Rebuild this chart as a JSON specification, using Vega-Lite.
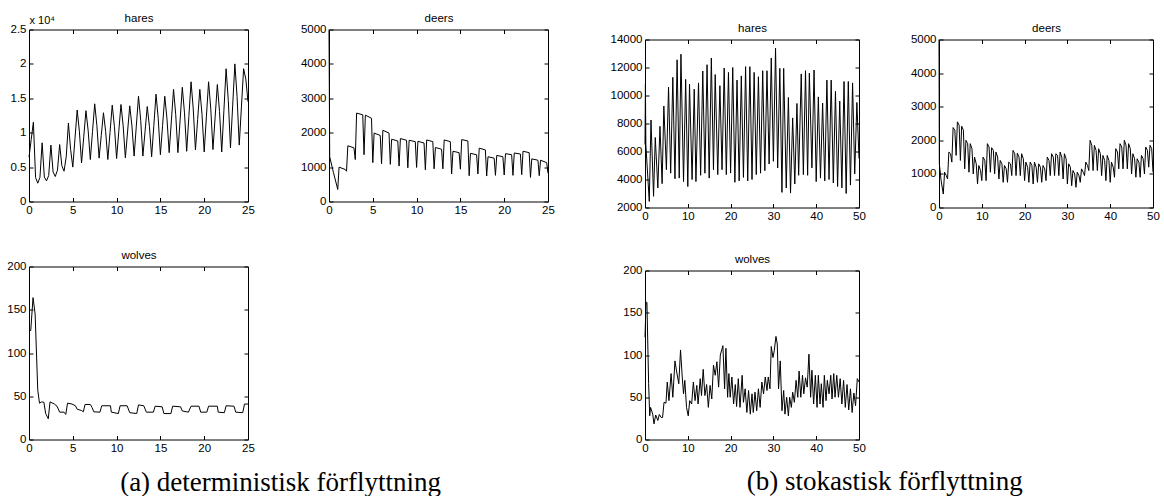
{
"$schema":"https://vega.github.io/schema/vega-lite/v6.json",
"padding":{"left":6,"top":11.5,"right":0,"bottom":0},
"datasets":{
"ha":[{"t":0,"v":6440},{"t":0.25,"v":9000},{"t":0.5,"v":11530},{"t":0.75,"v":3500},{"t":1,"v":2660},{"t":1.25,"v":3500},{"t":1.5,"v":8530},{"t":1.75,"v":3550},{"t":2,"v":3000},{"t":2.25,"v":3780},{"t":2.5,"v":8200},{"t":2.75,"v":4300},{"t":3,"v":3630},{"t":3.25,"v":4560},{"t":3.5,"v":8280},{"t":3.75,"v":5200},{"t":4,"v":4400},{"t":4.25,"v":6500},{"t":4.5,"v":11400},{"t":4.75,"v":7560},{"t":5,"v":5000},{"t":5.25,"v":9150},{"t":5.5,"v":13300},{"t":5.75,"v":10220},{"t":6,"v":5600},{"t":6.25,"v":9400},{"t":6.5,"v":13200},{"t":6.75,"v":10360},{"t":7,"v":6100},{"t":7.25,"v":10150},{"t":7.5,"v":14200},{"t":7.75,"v":11040},{"t":8,"v":6300},{"t":8.25,"v":9600},{"t":8.5,"v":12900},{"t":8.75,"v":10180},{"t":9,"v":6100},{"t":9.25,"v":10050},{"t":9.5,"v":14000},{"t":9.75,"v":10900},{"t":10,"v":6250},{"t":10.25,"v":10200},{"t":10.5,"v":14100},{"t":10.75,"v":11000},{"t":11,"v":6350},{"t":11.25,"v":10100},{"t":11.5,"v":13900},{"t":11.75,"v":10980},{"t":12,"v":6600},{"t":12.25,"v":10950},{"t":12.5,"v":15300},{"t":12.75,"v":11820},{"t":13,"v":6600},{"t":13.25,"v":10200},{"t":13.5,"v":13800},{"t":13.75,"v":10880},{"t":14,"v":6500},{"t":14.25,"v":11050},{"t":14.5,"v":15600},{"t":14.75,"v":12080},{"t":15,"v":6800},{"t":15.25,"v":11050},{"t":15.5,"v":15300},{"t":15.75,"v":12020},{"t":16,"v":7100},{"t":16.25,"v":11700},{"t":16.5,"v":16300},{"t":16.75,"v":12620},{"t":17,"v":7100},{"t":17.25,"v":11850},{"t":17.5,"v":16600},{"t":17.75,"v":12880},{"t":18,"v":7300},{"t":18.25,"v":12350},{"t":18.5,"v":17400},{"t":18.75,"v":13440},{"t":19,"v":7500},{"t":19.25,"v":11900},{"t":19.5,"v":16300},{"t":19.75,"v":12660},{"t":20,"v":7200},{"t":20.25,"v":12300},{"t":20.5,"v":17400},{"t":20.75,"v":13460},{"t":21,"v":7550},{"t":21.25,"v":12300},{"t":21.5,"v":17000},{"t":21.75,"v":13080},{"t":22,"v":7200},{"t":22.25,"v":13250},{"t":22.5,"v":19300},{"t":22.75,"v":14700},{"t":23,"v":7800},{"t":23.25,"v":13900},{"t":23.5,"v":20000},{"t":23.75,"v":15280},{"t":24,"v":8200},{"t":24.25,"v":13750},{"t":24.5,"v":19300},{"t":24.75,"v":17800},{"t":25,"v":14500}],
"da":[{"t":0,"v":5000},{"t":0.08,"v":1300},{"t":0.5,"v":850},{"t":1,"v":350},{"t":1.15,"v":1000},{"t":1.85,"v":930},{"t":2,"v":880},{"t":2.15,"v":1620},{"t":2.85,"v":1560},{"t":3,"v":1220},{"t":3.15,"v":2570},{"t":3.85,"v":2520},{"t":4,"v":1360},{"t":4.15,"v":2510},{"t":4.85,"v":2420},{"t":5,"v":1130},{"t":5.15,"v":1990},{"t":5.85,"v":1920},{"t":6,"v":1100},{"t":6.15,"v":2070},{"t":6.85,"v":1990},{"t":7,"v":1080},{"t":7.15,"v":1810},{"t":7.85,"v":1760},{"t":8,"v":1030},{"t":8.15,"v":1830},{"t":8.85,"v":1780},{"t":9,"v":980},{"t":9.15,"v":1780},{"t":9.85,"v":1740},{"t":10,"v":990},{"t":10.15,"v":1750},{"t":10.85,"v":1700},{"t":11,"v":920},{"t":11.15,"v":1790},{"t":11.85,"v":1740},{"t":12,"v":950},{"t":12.15,"v":1570},{"t":12.85,"v":1520},{"t":13,"v":950},{"t":13.15,"v":1790},{"t":13.85,"v":1740},{"t":14,"v":800},{"t":14.15,"v":1460},{"t":14.85,"v":1420},{"t":15,"v":940},{"t":15.15,"v":1800},{"t":15.85,"v":1760},{"t":16,"v":750},{"t":16.15,"v":1400},{"t":16.85,"v":1360},{"t":17,"v":800},{"t":17.15,"v":1550},{"t":17.85,"v":1500},{"t":18,"v":740},{"t":18.15,"v":1300},{"t":18.85,"v":1260},{"t":19,"v":760},{"t":19.15,"v":1340},{"t":19.85,"v":1300},{"t":20,"v":770},{"t":20.15,"v":1390},{"t":20.85,"v":1360},{"t":21,"v":760},{"t":21.15,"v":1410},{"t":21.85,"v":1380},{"t":22,"v":780},{"t":22.15,"v":1460},{"t":22.85,"v":1420},{"t":23,"v":700},{"t":23.15,"v":1240},{"t":23.85,"v":1200},{"t":24,"v":750},{"t":24.15,"v":1200},{"t":24.85,"v":1130},{"t":25,"v":820}],
"wa":[{"t":0,"v":126},{"t":0.2,"v":126},{"t":0.46,"v":164},{"t":0.7,"v":145},{"t":1,"v":57},{"t":1.2,"v":42},{"t":1.45,"v":43.5},{"t":1.7,"v":43},{"t":1.9,"v":30},{"t":2.2,"v":24},{"t":2.4,"v":43.5},{"t":2.9,"v":41},{"t":3.2,"v":38.5},{"t":3.5,"v":31.6},{"t":4,"v":31.6},{"t":4.2,"v":29},{"t":4.4,"v":42},{"t":4.9,"v":41},{"t":5.3,"v":39},{"t":5.5,"v":35},{"t":6,"v":33.5},{"t":6.2,"v":32},{"t":6.4,"v":40.5},{"t":7,"v":40.5},{"t":7.2,"v":37},{"t":7.4,"v":32},{"t":8.1,"v":31.6},{"t":8.3,"v":39},{"t":9.3,"v":39},{"t":9.4,"v":31.6},{"t":10.2,"v":30},{"t":10.4,"v":39},{"t":11.2,"v":39},{"t":11.5,"v":31},{"t":12.3,"v":30},{"t":12.5,"v":40},{"t":13.1,"v":39},{"t":13.4,"v":31.6},{"t":14.2,"v":31.6},{"t":14.4,"v":38.5},{"t":15.2,"v":37.8},{"t":15.4,"v":30},{"t":16.2,"v":30},{"t":16.4,"v":38.5},{"t":17.3,"v":37.8},{"t":17.5,"v":33},{"t":18.2,"v":31.6},{"t":18.5,"v":38.5},{"t":19.4,"v":38.5},{"t":19.6,"v":31.6},{"t":20.3,"v":31.6},{"t":20.5,"v":38.5},{"t":21.5,"v":38.5},{"t":21.6,"v":31.6},{"t":22.3,"v":31},{"t":22.5,"v":39},{"t":23.4,"v":38.5},{"t":23.6,"v":31.6},{"t":24.4,"v":31},{"t":24.6,"v":41},{"t":25,"v":41}],
"hb":[{"t":0,"v":6500},{"t":0.1,"v":10800},{"t":0.2,"v":6500},{"t":1,"v":2430},{"t":1.4,"v":8250},{"t":2,"v":2800},{"t":2.4,"v":7000},{"t":3,"v":3400},{"t":3.5,"v":7800},{"t":4,"v":3700},{"t":4.4,"v":9250},{"t":5,"v":4700},{"t":5.5,"v":10600},{"t":6,"v":4450},{"t":6.5,"v":11300},{"t":7,"v":4050},{"t":7.5,"v":12550},{"t":8,"v":4100},{"t":8.4,"v":12950},{"t":9,"v":3850},{"t":9.5,"v":11150},{"t":10,"v":3500},{"t":10.4,"v":10800},{"t":11,"v":4000},{"t":11.5,"v":10450},{"t":11.9,"v":3850},{"t":12.5,"v":10900},{"t":13,"v":4300},{"t":13.5,"v":11750},{"t":14,"v":4450},{"t":14.5,"v":12200},{"t":15,"v":4100},{"t":15.5,"v":12680},{"t":16,"v":4700},{"t":16.4,"v":11500},{"t":17,"v":4350},{"t":17.5,"v":10700},{"t":18,"v":4700},{"t":18.5,"v":11960},{"t":19,"v":4350},{"t":19.5,"v":11650},{"t":20,"v":4460},{"t":20.5,"v":12000},{"t":21,"v":3800},{"t":21.5,"v":11100},{"t":22,"v":3900},{"t":22.5,"v":11400},{"t":23,"v":4150},{"t":23.5,"v":12060},{"t":24,"v":3900},{"t":24.5,"v":12060},{"t":25,"v":4000},{"t":25.5,"v":11650},{"t":26,"v":4350},{"t":26.5,"v":11340},{"t":27,"v":4450},{"t":27.5,"v":11770},{"t":28,"v":4630},{"t":28.5,"v":11770},{"t":29,"v":5110},{"t":29.5,"v":12680},{"t":30,"v":5300},{"t":30.5,"v":13380},{"t":31,"v":4820},{"t":31.5,"v":11940},{"t":32,"v":3080},{"t":32.4,"v":11940},{"t":33,"v":3390},{"t":33.5,"v":9860},{"t":34,"v":3030},{"t":34.5,"v":8400},{"t":35,"v":3680},{"t":35.5,"v":9430},{"t":35.9,"v":4300},{"t":36.5,"v":11540},{"t":37,"v":4350},{"t":37.5,"v":11770},{"t":38,"v":4300},{"t":38.4,"v":11600},{"t":39,"v":4830},{"t":39.5,"v":11820},{"t":40,"v":3850},{"t":40.5,"v":9900},{"t":41,"v":4100},{"t":41.5,"v":9460},{"t":42,"v":3900},{"t":42.5,"v":11100},{"t":43,"v":4000},{"t":43.5,"v":11100},{"t":44,"v":3750},{"t":44.5,"v":10300},{"t":45,"v":3500},{"t":45.5,"v":9600},{"t":46,"v":3400},{"t":46.5,"v":11000},{"t":47,"v":3000},{"t":47.5,"v":11000},{"t":48,"v":3600},{"t":48.5,"v":10900},{"t":49,"v":4400},{"t":49.5,"v":9500},{"t":50,"v":5500}],
"db":[{"t":0,"v":5000},{"t":0.08,"v":1300},{"t":0.5,"v":800},{"t":1,"v":400},{"t":1.3,"v":1050},{"t":1.7,"v":950},{"t":2,"v":850},{"t":2.3,"v":1650},{"t":2.7,"v":1600},{"t":3,"v":1350},{"t":3.3,"v":2380},{"t":3.7,"v":2300},{"t":4,"v":1550},{"t":4.3,"v":2550},{"t":4.7,"v":2450},{"t":5,"v":1400},{"t":5.3,"v":2420},{"t":5.7,"v":2300},{"t":6,"v":1150},{"t":6.3,"v":2000},{"t":6.7,"v":1900},{"t":7,"v":1050},{"t":7.3,"v":1900},{"t":7.7,"v":1750},{"t":8,"v":1000},{"t":8.3,"v":1500},{"t":8.7,"v":1300},{"t":9,"v":700},{"t":9.3,"v":1250},{"t":9.7,"v":1100},{"t":10,"v":800},{"t":10.3,"v":1500},{"t":10.7,"v":1400},{"t":11,"v":800},{"t":11.3,"v":1900},{"t":11.7,"v":1800},{"t":12,"v":1050},{"t":12.3,"v":1780},{"t":12.7,"v":1700},{"t":13,"v":1000},{"t":13.3,"v":1650},{"t":13.7,"v":1500},{"t":14,"v":850},{"t":14.3,"v":1400},{"t":14.7,"v":1300},{"t":15,"v":750},{"t":15.3,"v":1250},{"t":15.7,"v":1150},{"t":16,"v":750},{"t":16.3,"v":1350},{"t":16.7,"v":1300},{"t":17,"v":950},{"t":17.3,"v":1700},{"t":17.7,"v":1600},{"t":18,"v":950},{"t":18.3,"v":1620},{"t":18.7,"v":1500},{"t":19,"v":950},{"t":19.3,"v":1600},{"t":19.7,"v":1450},{"t":20,"v":800},{"t":20.3,"v":1350},{"t":20.7,"v":1200},{"t":21,"v":750},{"t":21.3,"v":1350},{"t":21.7,"v":1250},{"t":22,"v":700},{"t":22.3,"v":1350},{"t":22.7,"v":1200},{"t":23,"v":750},{"t":23.3,"v":1300},{"t":23.7,"v":1200},{"t":24,"v":750},{"t":24.3,"v":1250},{"t":24.7,"v":1150},{"t":25,"v":800},{"t":25.3,"v":1500},{"t":25.7,"v":1400},{"t":26,"v":950},{"t":26.3,"v":1600},{"t":26.7,"v":1500},{"t":27,"v":950},{"t":27.3,"v":1600},{"t":27.7,"v":1550},{"t":28,"v":950},{"t":28.3,"v":1650},{"t":28.7,"v":1500},{"t":29,"v":850},{"t":29.3,"v":1600},{"t":29.7,"v":1450},{"t":30,"v":700},{"t":30.3,"v":1300},{"t":30.7,"v":1200},{"t":31,"v":650},{"t":31.3,"v":1100},{"t":31.7,"v":1000},{"t":32,"v":600},{"t":32.3,"v":1050},{"t":32.7,"v":950},{"t":33,"v":750},{"t":33.3,"v":1150},{"t":33.7,"v":1050},{"t":34,"v":950},{"t":34.3,"v":1350},{"t":34.7,"v":1250},{"t":35,"v":1100},{"t":35.3,"v":2000},{"t":35.7,"v":1850},{"t":36,"v":1100},{"t":36.3,"v":1850},{"t":36.7,"v":1700},{"t":37,"v":1100},{"t":37.3,"v":1750},{"t":37.7,"v":1600},{"t":38,"v":950},{"t":38.3,"v":1550},{"t":38.7,"v":1400},{"t":39,"v":800},{"t":39.3,"v":1550},{"t":39.7,"v":1400},{"t":40,"v":750},{"t":40.3,"v":1350},{"t":40.7,"v":1200},{"t":41,"v":900},{"t":41.3,"v":1750},{"t":41.7,"v":1650},{"t":42,"v":1150},{"t":42.3,"v":1900},{"t":42.7,"v":1800},{"t":43,"v":1150},{"t":43.3,"v":2000},{"t":43.7,"v":1850},{"t":44,"v":1150},{"t":44.3,"v":1900},{"t":44.7,"v":1750},{"t":45,"v":1000},{"t":45.3,"v":1600},{"t":45.7,"v":1450},{"t":46,"v":900},{"t":46.3,"v":1450},{"t":46.7,"v":1350},{"t":47,"v":900},{"t":47.3,"v":1550},{"t":47.7,"v":1450},{"t":48,"v":1000},{"t":48.3,"v":1800},{"t":48.7,"v":1700},{"t":49,"v":1200},{"t":49.3,"v":1850},{"t":49.7,"v":1750},{"t":50,"v":1050}],
"wb":[{"t":0,"v":121},{"t":0.25,"v":163},{"t":0.45,"v":162},{"t":0.85,"v":66},{"t":1.1,"v":28},{"t":1.3,"v":38},{"t":1.8,"v":30},{"t":2.1,"v":18.5},{"t":2.5,"v":29},{"t":3,"v":22.5},{"t":3.35,"v":29.6},{"t":3.8,"v":26},{"t":4.1,"v":26},{"t":4.45,"v":44},{"t":4.9,"v":43},{"t":5.2,"v":68},{"t":5.6,"v":46},{"t":6.1,"v":78},{"t":6.5,"v":50},{"t":7,"v":93},{"t":7.4,"v":80},{"t":7.9,"v":66},{"t":8.3,"v":106},{"t":8.7,"v":74},{"t":9,"v":54},{"t":9.3,"v":70},{"t":9.7,"v":38},{"t":10.1,"v":28},{"t":10.45,"v":46},{"t":10.9,"v":42},{"t":11.3,"v":68},{"t":11.7,"v":46},{"t":12.1,"v":64},{"t":12.4,"v":42},{"t":12.9,"v":72},{"t":13.2,"v":52},{"t":13.6,"v":83},{"t":14,"v":52},{"t":14.4,"v":65},{"t":14.8,"v":38},{"t":15.2,"v":64},{"t":15.6,"v":48},{"t":16,"v":88},{"t":16.4,"v":76},{"t":16.8,"v":92},{"t":17.2,"v":62},{"t":17.6,"v":100},{"t":18.2,"v":111},{"t":18.6,"v":60},{"t":18.9,"v":108},{"t":19.3,"v":50},{"t":19.6,"v":78},{"t":19.9,"v":50},{"t":20.3,"v":74},{"t":20.7,"v":42},{"t":21.1,"v":65},{"t":21.4,"v":39},{"t":21.8,"v":72},{"t":22.2,"v":38},{"t":22.7,"v":76},{"t":23,"v":44},{"t":23.4,"v":60},{"t":23.8,"v":32},{"t":24.2,"v":58},{"t":24.6,"v":30},{"t":25,"v":54},{"t":25.3,"v":32},{"t":25.7,"v":56},{"t":26.1,"v":34},{"t":26.5,"v":60},{"t":26.9,"v":38},{"t":27.3,"v":68},{"t":27.7,"v":54},{"t":28.1,"v":74},{"t":28.5,"v":58},{"t":28.8,"v":74},{"t":29.2,"v":60},{"t":29.5,"v":110},{"t":29.9,"v":97},{"t":30.2,"v":105},{"t":30.6,"v":122},{"t":30.9,"v":113},{"t":31.2,"v":60},{"t":31.6,"v":93},{"t":32,"v":34},{"t":32.4,"v":58},{"t":32.7,"v":30},{"t":33.1,"v":50},{"t":33.5,"v":28},{"t":33.8,"v":50},{"t":34.2,"v":38},{"t":34.5,"v":56},{"t":34.9,"v":44},{"t":35.3,"v":70},{"t":35.7,"v":50},{"t":36,"v":81},{"t":36.4,"v":50},{"t":36.8,"v":76},{"t":37.1,"v":54},{"t":37.5,"v":73},{"t":37.9,"v":62},{"t":38.3,"v":101},{"t":38.7,"v":50},{"t":39,"v":82},{"t":39.4,"v":42},{"t":39.8,"v":76},{"t":40.2,"v":38},{"t":40.5,"v":76},{"t":40.9,"v":42},{"t":41.2,"v":66},{"t":41.6,"v":38},{"t":41.9,"v":76},{"t":42.3,"v":46},{"t":42.6,"v":70},{"t":43,"v":54},{"t":43.4,"v":76},{"t":43.7,"v":48},{"t":44.1,"v":78},{"t":44.4,"v":50},{"t":44.8,"v":76},{"t":45.2,"v":50},{"t":45.6,"v":72},{"t":46,"v":42},{"t":46.4,"v":70},{"t":46.8,"v":38},{"t":47.2,"v":65},{"t":47.6,"v":35},{"t":48,"v":60},{"t":48.4,"v":32},{"t":48.8,"v":55},{"t":49.2,"v":40},{"t":49.6,"v":72},{"t":50,"v":68}]
},
"bounds":"flush",
"spacing":616,
"hconcat":[
{"bounds":"flush","columns":2,"spacing":{"row":65,"column":81},
 "title":{"text":"(a) deterministisk förflyttning","orient":"bottom","font":"Liberation Serif","fontSize":27,"fontWeight":"normal","offset":15,"baseline":"top","anchor":"middle"},
 "concat":[
   {"width":219,"height":172,"data":{"name":"ha"},
    "layer":[
     {"mark":{"type":"line","color":"black","strokeWidth":1},
      "encoding":{"x":{"field":"t","type":"quantitative","scale":{"domain":[0,25],"nice":false},"axis":{"values":[0,5,10,15,20,25],"title":null}},
       "y":{"field":"v","type":"quantitative","scale":{"domain":[0,25000],"nice":false},"axis":{"values":[0,5000,10000,15000,20000,25000],"labelExpr":"datum.value/10000","title":"x 10⁴","titleAngle":0,"titleX":0,"titleY":-6,"titleAlign":"left","titleBaseline":"alphabetic","titleFontSize":11}}}},
     {"mark":{"type":"line","strokeOpacity":0},
      "encoding":{"x":{"field":"t","type":"quantitative","scale":{"domain":[0,25],"nice":false},"axis":{"orient":"top","values":[0,5,10,15,20,25],"title":"hares"}},
       "y":{"field":"v","type":"quantitative","scale":{"domain":[0,25000],"nice":false},"axis":{"orient":"right","values":[0,5000,10000,15000,20000,25000],"title":null}}}}
    ],
    "resolve":{"axis":{"x":"independent","y":"independent"}}},
   {"width":219,"height":172,"data":{"name":"da"},
    "layer":[
     {"mark":{"type":"line","color":"black","strokeWidth":1},
      "encoding":{"x":{"field":"t","type":"quantitative","scale":{"domain":[0,25],"nice":false},"axis":{"values":[0,5,10,15,20,25],"title":null}},
       "y":{"field":"v","type":"quantitative","scale":{"domain":[0,5000],"nice":false},"axis":{"values":[0,1000,2000,3000,4000,5000],"format":"d","title":null}}}},
     {"mark":{"type":"line","strokeOpacity":0},
      "encoding":{"x":{"field":"t","type":"quantitative","scale":{"domain":[0,25],"nice":false},"axis":{"orient":"top","values":[0,5,10,15,20,25],"title":"deers"}},
       "y":{"field":"v","type":"quantitative","scale":{"domain":[0,5000],"nice":false},"axis":{"orient":"right","values":[0,1000,2000,3000,4000,5000],"title":null}}}}
    ],
    "resolve":{"axis":{"x":"independent","y":"independent"}}},
  {"width":219,"height":173,"data":{"name":"wa"},
   "layer":[
    {"mark":{"type":"line","color":"black","strokeWidth":1},
     "encoding":{"x":{"field":"t","type":"quantitative","scale":{"domain":[0,25],"nice":false},"axis":{"values":[0,5,10,15,20,25],"title":null}},
      "y":{"field":"v","type":"quantitative","scale":{"domain":[0,200],"nice":false},"axis":{"values":[0,50,100,150,200],"title":null}}}},
    {"mark":{"type":"line","strokeOpacity":0},
     "encoding":{"x":{"field":"t","type":"quantitative","scale":{"domain":[0,25],"nice":false},"axis":{"orient":"top","values":[0,5,10,15,20,25],"title":"wolves"}},
      "y":{"field":"v","type":"quantitative","scale":{"domain":[0,200],"nice":false},"axis":{"orient":"right","values":[0,50,100,150,200],"title":null}}}}
   ],
   "resolve":{"axis":{"x":"independent","y":"independent"}}}
 ]},
{"bounds":"flush","spacing":9,
 "title":{"text":"(b) stokastisk förflyttning","orient":"bottom","font":"Liberation Serif","fontSize":27,"fontWeight":"normal","offset":14,"baseline":"top","anchor":"middle"},
 "vconcat":[
  {"width":1,"height":1,"data":{"values":[{"a":1}]},"mark":{"type":"point","opacity":0},"encoding":{},"view":{"stroke":null}},
  {"bounds":"flush","columns":2,"spacing":{"row":63,"column":80},
   "concat":[
    {"width":214,"height":168,"data":{"name":"hb"},
     "layer":[
      {"mark":{"type":"line","color":"black","strokeWidth":1},
       "encoding":{"x":{"field":"t","type":"quantitative","scale":{"domain":[0,50],"nice":false},"axis":{"values":[0,10,20,30,40,50],"title":null}},
        "y":{"field":"v","type":"quantitative","scale":{"domain":[2000,14000],"nice":false,"zero":false},"axis":{"values":[2000,4000,6000,8000,10000,12000,14000],"format":"d","title":null}}}},
      {"mark":{"type":"line","strokeOpacity":0},
       "encoding":{"x":{"field":"t","type":"quantitative","scale":{"domain":[0,50],"nice":false},"axis":{"orient":"top","values":[0,10,20,30,40,50],"title":"hares"}},
        "y":{"field":"v","type":"quantitative","scale":{"domain":[2000,14000],"nice":false,"zero":false},"axis":{"orient":"right","values":[2000,4000,6000,8000,10000,12000,14000],"title":null}}}}
     ],
     "resolve":{"axis":{"x":"independent","y":"independent"}}},
    {"width":214,"height":168,"data":{"name":"db"},
     "layer":[
      {"mark":{"type":"line","color":"black","strokeWidth":1},
       "encoding":{"x":{"field":"t","type":"quantitative","scale":{"domain":[0,50],"nice":false},"axis":{"values":[0,10,20,30,40,50],"title":null}},
        "y":{"field":"v","type":"quantitative","scale":{"domain":[0,5000],"nice":false},"axis":{"values":[0,1000,2000,3000,4000,5000],"format":"d","title":null}}}},
      {"mark":{"type":"line","strokeOpacity":0},
       "encoding":{"x":{"field":"t","type":"quantitative","scale":{"domain":[0,50],"nice":false},"axis":{"orient":"top","values":[0,10,20,30,40,50],"title":"deers"}},
        "y":{"field":"v","type":"quantitative","scale":{"domain":[0,5000],"nice":false},"axis":{"orient":"right","values":[0,1000,2000,3000,4000,5000],"title":null}}}}
     ],
     "resolve":{"axis":{"x":"independent","y":"independent"}}},
    {"width":214,"height":169,"data":{"name":"wb"},
     "layer":[
      {"mark":{"type":"line","color":"black","strokeWidth":1},
       "encoding":{"x":{"field":"t","type":"quantitative","scale":{"domain":[0,50],"nice":false},"axis":{"values":[0,10,20,30,40,50],"title":null}},
        "y":{"field":"v","type":"quantitative","scale":{"domain":[0,200],"nice":false},"axis":{"values":[0,50,100,150,200],"title":null}}}},
      {"mark":{"type":"line","strokeOpacity":0},
       "encoding":{"x":{"field":"t","type":"quantitative","scale":{"domain":[0,50],"nice":false},"axis":{"orient":"top","values":[0,10,20,30,40,50],"title":"wolves"}},
        "y":{"field":"v","type":"quantitative","scale":{"domain":[0,200],"nice":false},"axis":{"orient":"right","values":[0,50,100,150,200],"title":null}}}}
     ],
     "resolve":{"axis":{"x":"independent","y":"independent"}}}
   ]}
 ]}
],
"config":{
 "view":{"stroke":"black","strokeWidth":1},
 "font":"Liberation Sans",
 "axis":{"grid":false,"domain":false,"ticks":true,"tickColor":"black","tickSize":-4,"tickWidth":1,"labelPadding":7,"labelFont":"Liberation Sans","labelFontSize":11.5,"labelColor":"black","labelOverlap":false,"labelFlush":false,"titleFont":"Liberation Sans","titleFontSize":11.5,"titleFontWeight":"normal","titleColor":"black","titlePadding":6},
 "axisTop":{"labels":false},
 "axisRight":{"labels":false},
 "title":{"font":"Liberation Sans","fontSize":11.5,"fontWeight":"normal","color":"black"}
}
}
